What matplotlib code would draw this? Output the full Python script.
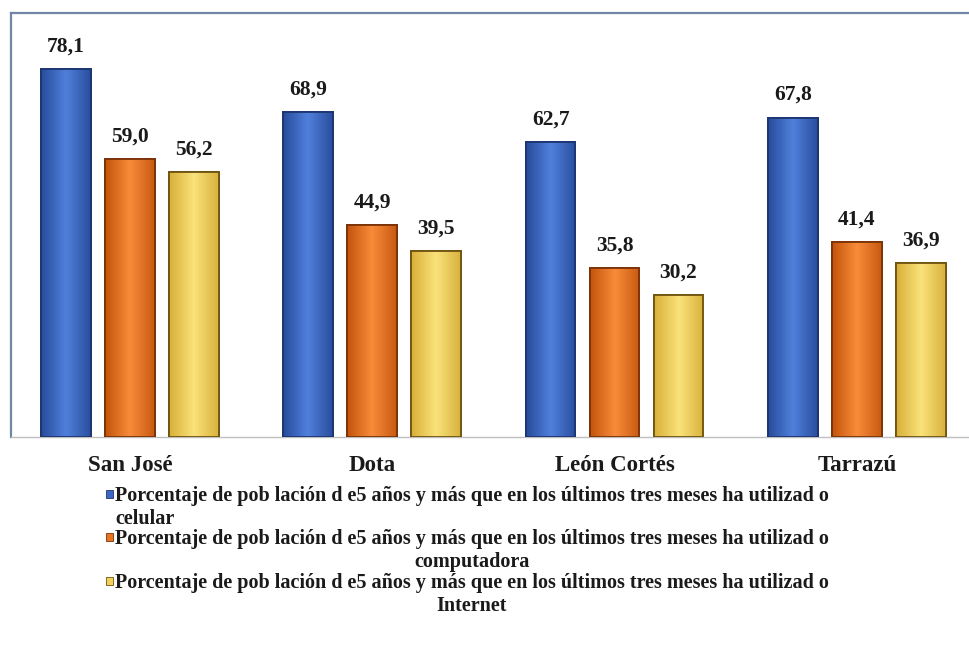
import matplotlib
matplotlib.use("Agg")
import matplotlib.pyplot as plt
from matplotlib.colors import LinearSegmentedColormap
import numpy as np

categories = ["San José", "Dota", "León Cortés", "Tarrazú"]
celular = [78.1, 68.9, 62.7, 67.8]
computadora = [59.0, 44.9, 35.8, 41.4]
internet = [56.2, 39.5, 30.2, 36.9]
value_labels = {
    "celular": ["78,1", "68,9", "62,7", "67,8"],
    "computadora": ["59,0", "44,9", "35,8", "41,4"],
    "internet": ["56,2", "39,5", "30,2", "36,9"],
}
legend_base = "Porcentaje de pob lación d e5 años y más que en los últimos tres meses ha utilizad o"
legend_tails = ["celular", "computadora", "Internet"]

plt.rcParams['font.family'] = ['Liberation Serif', 'DejaVu Serif']

fig = plt.figure(figsize=(9.69, 6.65), dpi=100)
ax = fig.add_axes([11/969, 1-437/665, 1-11/969, (437-13)/665])

x = np.arange(len(categories))
w = 0.205
off = 0.264
series = [
    (celular, "celular", ("#284c9c", "#5080dc", "#2a4e9e"), "#1c3570", -off),
    (computadora, "computadora", ("#c4540c", "#f88c3a", "#c85a10"), "#7a3208", 0.0),
    (internet, "internet", ("#d8b03a", "#fae27a", "#d9b23e"), "#6e5310", off),
]
grad = np.linspace(0, 1, 64).reshape(1, -1)
for vals, key, cols, edge, o in series:
    cmap = LinearSegmentedColormap.from_list(key, list(cols))
    bars = ax.bar(x + o, vals, width=w, color=cols[1], edgecolor=edge, linewidth=1.3, zorder=3)
    for b, lab in zip(bars, value_labels[key]):
        x0, h, bw = b.get_x(), b.get_height(), b.get_width()
        im = ax.imshow(grad, cmap=cmap, extent=(x0, x0 + bw, 0, h), aspect="auto",
                       zorder=3.5, interpolation="bilinear")
        im.set_clip_path(b)
        ax.bar(x0 + bw/2, h, width=bw, fill=False, edgecolor=edge, linewidth=1.3, zorder=4)
        ax.annotate(lab, (x0 + bw/2, h),
                    xytext=(0, 9), textcoords="offset points",
                    ha="center", va="bottom", fontsize=15.5, fontweight="bold", color="#1a1a1a")

ax.set_xlim(-0.491, 3.463)
ax.set_ylim(0, 90)
ax.set_yticks([])
ax.set_xticks(x)
ax.set_xticklabels(categories, fontsize=16.5, fontweight="bold", color="#1a1a1a")
ax.tick_params(axis="x", length=0, pad=13)
for s in ["left", "top"]:
    ax.spines[s].set_color("#6f86a6")
    ax.spines[s].set_linewidth(1.6)
ax.spines["right"].set_visible(False)
ax.spines["bottom"].set_color("#bfbfbf")
ax.spines["bottom"].set_linewidth(1.0)

# legend
leg_cols = ["#3d67c4", "#ea7424", "#f3d05a"]
leg_edges = ["#1c3570", "#7a3208", "#6e5310"]
ys = [494, 537, 581]
aligns = ["left", "center", "center"]
for yy, tail, c, e, al in zip(ys, legend_tails, leg_cols, leg_edges, aligns):
    fig.patches.append(plt.Rectangle((106/969, 1-(yy+4)/665), 7/969, 8/665,
                                     transform=fig.transFigure, facecolor=c, edgecolor=e, linewidth=0.6))
    fig.text(115/969, 1-(yy-8)/665, legend_base + "\n" + tail, ha="left", va="top",
             multialignment=al, fontsize=14.5, fontweight="bold", color="#1a1a1a", linespacing=1.17)

fig.savefig("out.png", dpi=100)
